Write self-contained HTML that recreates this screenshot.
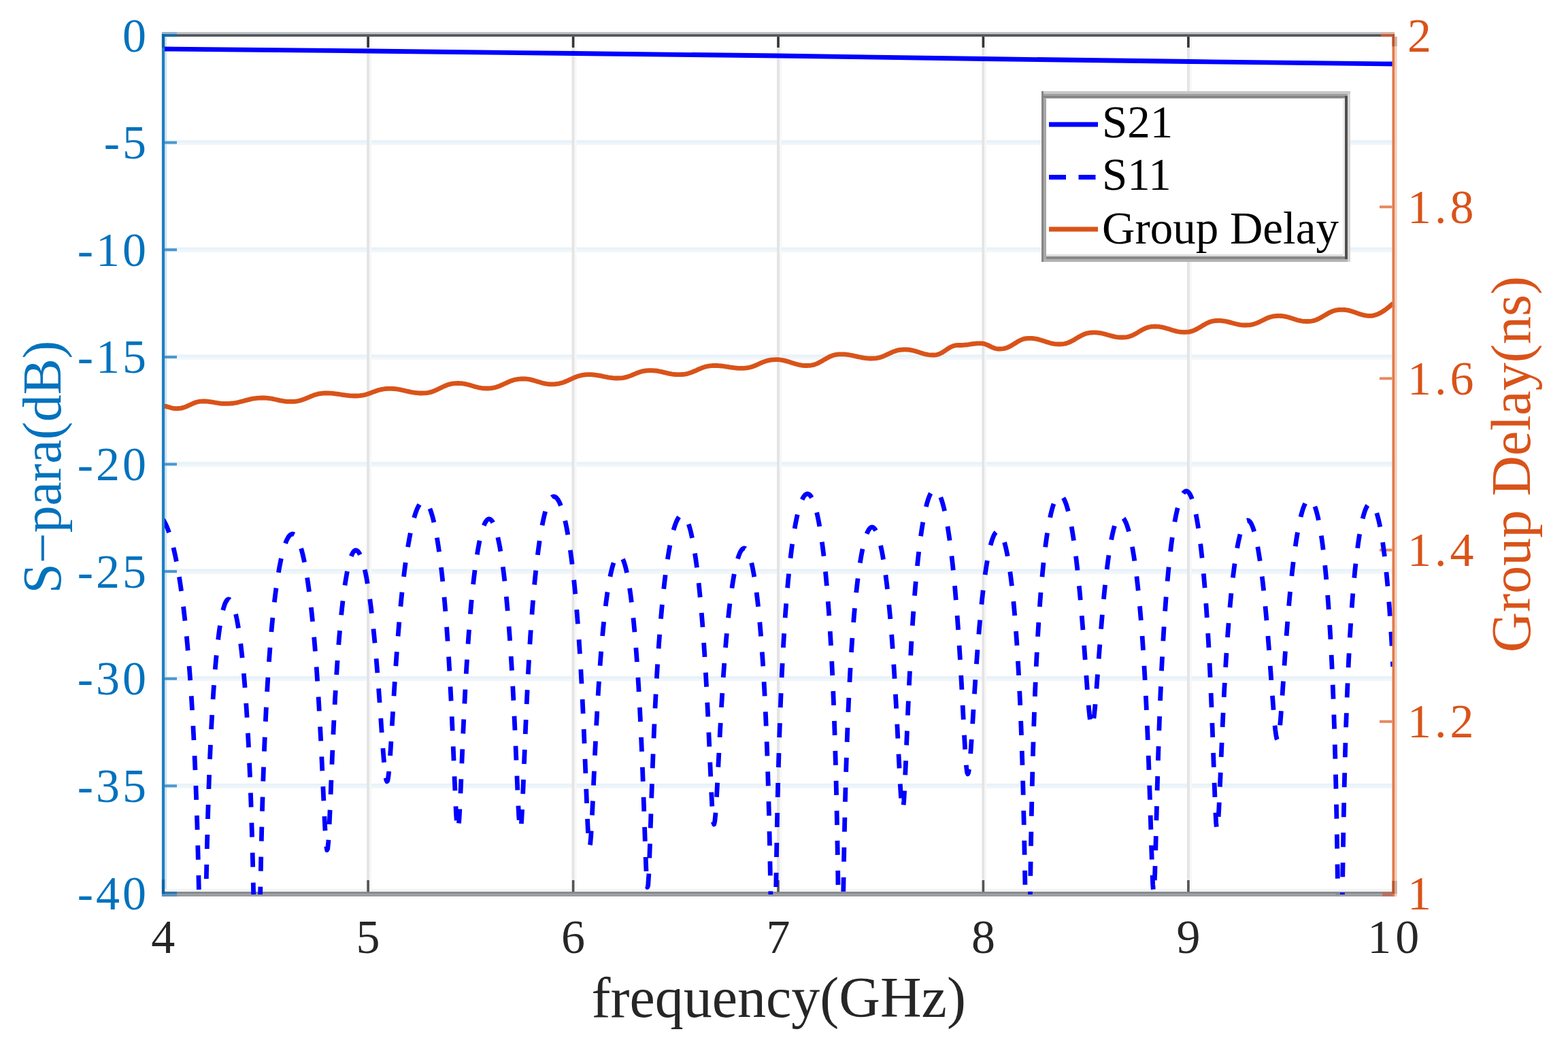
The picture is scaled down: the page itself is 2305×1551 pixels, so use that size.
<!DOCTYPE html>
<html><head><meta charset="utf-8"><title>S-parameters and Group Delay</title>
<style>html,body{margin:0;padding:0;background:#fff;width:2305px;height:1551px;overflow:hidden}svg{display:block}</style>
</head><body>
<svg width="2305" height="1551" viewBox="0 0 2305 1551">
<rect width="2305" height="1551" fill="#fff"/>
<defs><clipPath id="ax"><rect x="239.7" y="52.0" width="1808.6" height="1263.0"/></clipPath></defs>
<rect x="239.7" y="206.0" width="1808.6" height="4" fill="#e8f2f9"/>
<rect x="239.7" y="210.0" width="1808.6" height="3.2" fill="#f0f6fa"/>
<rect x="239.7" y="363.6" width="1808.6" height="4" fill="#e8f2f9"/>
<rect x="239.7" y="367.6" width="1808.6" height="3.2" fill="#f0f6fa"/>
<rect x="239.7" y="521.3" width="1808.6" height="4" fill="#e8f2f9"/>
<rect x="239.7" y="525.3" width="1808.6" height="3.2" fill="#f0f6fa"/>
<rect x="239.7" y="678.9" width="1808.6" height="4" fill="#e8f2f9"/>
<rect x="239.7" y="682.9" width="1808.6" height="3.2" fill="#f0f6fa"/>
<rect x="239.7" y="836.5" width="1808.6" height="4" fill="#e8f2f9"/>
<rect x="239.7" y="840.5" width="1808.6" height="3.2" fill="#f0f6fa"/>
<rect x="239.7" y="994.1" width="1808.6" height="4" fill="#e8f2f9"/>
<rect x="239.7" y="998.1" width="1808.6" height="3.2" fill="#f0f6fa"/>
<rect x="239.7" y="1151.8" width="1808.6" height="4" fill="#e8f2f9"/>
<rect x="239.7" y="1155.8" width="1808.6" height="3.2" fill="#f0f6fa"/>
<rect x="539.1" y="52.0" width="4" height="1261.0" fill="#e4e4e4"/>
<rect x="543.1" y="52.0" width="3" height="1261.0" fill="#f7f7f7"/>
<rect x="840.6" y="52.0" width="4" height="1261.0" fill="#e4e4e4"/>
<rect x="844.6" y="52.0" width="3" height="1261.0" fill="#f7f7f7"/>
<rect x="1142.0" y="52.0" width="4" height="1261.0" fill="#e4e4e4"/>
<rect x="1146.0" y="52.0" width="3" height="1261.0" fill="#f7f7f7"/>
<rect x="1443.4" y="52.0" width="4" height="1261.0" fill="#e4e4e4"/>
<rect x="1447.4" y="52.0" width="3" height="1261.0" fill="#f7f7f7"/>
<rect x="1744.9" y="52.0" width="4" height="1261.0" fill="#e4e4e4"/>
<rect x="1748.9" y="52.0" width="3" height="1261.0" fill="#f7f7f7"/>
<rect x="239.7" y="47" width="1808.6" height="3.2" fill="#c0c3c6"/>
<rect x="242.1" y="53.9" width="3" height="1253" fill="#cde3f2"/>
<rect x="2050.1" y="53.9" width="3.5" height="1264" fill="#f0cdbb"/>
<rect x="239.7" y="1306.8" width="1808.6" height="4.1" fill="#f2f4f4"/>
<rect x="239.7" y="1310.9" width="1808.6" height="3.5" fill="#868a8d"/>
<rect x="239.7" y="1314.4" width="1808.6" height="3.5" fill="#979a9e"/>
<rect x="539.3" y="53.9" width="3.6" height="16" fill="#353535"/>
<rect x="539.3" y="1294" width="3.6" height="17" fill="#555"/>
<rect x="840.8" y="53.9" width="3.6" height="16" fill="#353535"/>
<rect x="840.8" y="1294" width="3.6" height="17" fill="#555"/>
<rect x="1142.2" y="53.9" width="3.6" height="16" fill="#353535"/>
<rect x="1142.2" y="1294" width="3.6" height="17" fill="#555"/>
<rect x="1443.6" y="53.9" width="3.6" height="16" fill="#353535"/>
<rect x="1443.6" y="1294" width="3.6" height="17" fill="#555"/>
<rect x="1745.1" y="53.9" width="3.6" height="16" fill="#353535"/>
<rect x="1745.1" y="1294" width="3.6" height="17" fill="#555"/>
<rect x="242" y="207.6" width="18" height="4" fill="#4a97cc"/>
<rect x="242" y="365.2" width="18" height="4" fill="#4a97cc"/>
<rect x="242" y="522.9" width="18" height="4" fill="#4a97cc"/>
<rect x="242" y="680.5" width="18" height="4" fill="#4a97cc"/>
<rect x="242" y="838.1" width="18" height="4" fill="#4a97cc"/>
<rect x="242" y="995.8" width="18" height="4" fill="#4a97cc"/>
<rect x="242" y="1153.4" width="18" height="4" fill="#4a97cc"/>
<rect x="2028" y="1058.8" width="18.5" height="4" fill="#e58a60"/>
<rect x="2028" y="806.6" width="18.5" height="4" fill="#e58a60"/>
<rect x="2028" y="554.4" width="18.5" height="4" fill="#e58a60"/>
<rect x="2028" y="302.2" width="18.5" height="4" fill="#e58a60"/>
<rect x="2032" y="1311" width="18" height="6.5" fill="#b87060"/>
<g clip-path="url(#ax)" fill="none" stroke-linejoin="round">
<path d="M239.7,597.0 L241.7,597.1 L243.8,597.4 L245.8,597.9 L247.8,598.5 L249.9,599.1 L251.9,599.7 L253.9,600.2 L256.0,600.5 L258.0,600.6 L260.0,600.6 L262.0,600.5 L264.0,600.4 L266.0,600.1 L268.0,599.6 L270.0,599.1 L272.0,598.4 L274.0,597.6 L276.0,596.7 L278.0,595.8 L280.0,594.8 L282.0,593.9 L284.0,593.0 L286.0,592.2 L288.0,591.5 L290.0,591.0 L292.0,590.5 L294.0,590.2 L296.0,590.1 L298.0,590.0 L300.0,590.0 L302.0,590.0 L304.1,590.1 L306.1,590.3 L308.1,590.6 L310.1,590.9 L312.2,591.2 L314.2,591.5 L316.2,591.9 L318.2,592.2 L320.3,592.5 L322.3,592.8 L324.3,593.1 L326.3,593.3 L328.4,593.4 L330.4,593.4 L332.4,593.4 L334.5,593.4 L336.5,593.3 L338.6,593.2 L340.6,593.0 L342.7,592.8 L344.7,592.5 L346.8,592.2 L348.8,591.8 L350.9,591.3 L352.9,590.8 L355.0,590.3 L357.0,589.8 L359.0,589.2 L361.1,588.6 L363.1,588.1 L365.2,587.6 L367.2,587.1 L369.3,586.6 L371.3,586.2 L373.4,585.9 L375.4,585.6 L377.5,585.4 L379.5,585.2 L381.6,585.1 L383.6,585.0 L385.7,585.0 L387.7,585.0 L389.7,585.0 L391.7,585.1 L393.7,585.3 L395.8,585.6 L397.8,585.9 L399.8,586.2 L401.8,586.6 L403.8,587.0 L405.8,587.5 L407.9,587.9 L409.9,588.4 L411.9,588.8 L413.9,589.2 L415.9,589.5 L417.9,589.8 L420.0,590.1 L422.0,590.3 L424.0,590.4 L426.0,590.4 L428.0,590.4 L430.1,590.4 L432.1,590.3 L434.1,590.1 L436.2,589.8 L438.2,589.5 L440.3,589.0 L442.3,588.4 L444.3,587.8 L446.4,587.1 L448.4,586.3 L450.4,585.5 L452.5,584.6 L454.5,583.8 L456.6,582.9 L458.6,582.1 L460.6,581.3 L462.7,580.6 L464.7,580.0 L466.7,579.4 L468.8,578.9 L470.8,578.6 L472.9,578.3 L474.9,578.1 L476.9,578.0 L479.0,578.0 L481.0,578.0 L483.0,578.0 L485.0,578.1 L487.0,578.2 L489.0,578.4 L491.0,578.6 L493.0,578.8 L495.0,579.1 L497.0,579.4 L499.0,579.7 L501.0,580.0 L503.0,580.3 L505.0,580.6 L507.0,580.9 L509.0,581.2 L511.0,581.4 L513.0,581.6 L515.0,581.8 L517.0,581.9 L519.0,582.0 L521.0,582.0 L523.0,582.0 L525.1,582.0 L527.1,581.9 L529.2,581.7 L531.2,581.4 L533.2,581.1 L535.3,580.7 L537.3,580.2 L539.3,579.6 L541.4,578.9 L543.4,578.2 L545.5,577.5 L547.5,576.7 L549.5,575.9 L551.6,575.2 L553.6,574.5 L555.7,573.8 L557.7,573.2 L559.7,572.7 L561.8,572.3 L563.8,572.0 L565.8,571.7 L567.9,571.5 L569.9,571.4 L572.0,571.4 L574.0,571.4 L576.0,571.4 L578.1,571.5 L580.1,571.7 L582.2,571.9 L584.2,572.2 L586.3,572.5 L588.3,572.9 L590.4,573.3 L592.4,573.8 L594.5,574.2 L596.5,574.7 L598.5,575.2 L600.6,575.6 L602.6,576.1 L604.7,576.5 L606.7,576.9 L608.8,577.2 L610.8,577.5 L612.9,577.7 L614.9,577.9 L617.0,578.0 L619.0,578.0 L621.1,578.0 L623.1,577.9 L625.2,577.8 L627.2,577.6 L629.3,577.3 L631.4,576.9 L633.4,576.4 L635.5,575.7 L637.5,575.0 L639.6,574.1 L641.7,573.2 L643.7,572.2 L645.8,571.3 L647.8,570.2 L649.9,569.3 L651.9,568.3 L654.0,567.4 L656.1,566.5 L658.1,565.8 L660.2,565.1 L662.2,564.6 L664.3,564.2 L666.4,563.9 L668.4,563.7 L670.5,563.6 L672.5,563.5 L674.6,563.5 L676.7,563.6 L678.7,563.7 L680.8,564.0 L682.9,564.3 L685.0,564.7 L687.0,565.2 L689.1,565.7 L691.2,566.3 L693.3,566.9 L695.3,567.6 L697.4,568.2 L699.5,568.8 L701.6,569.3 L703.6,569.8 L705.7,570.2 L707.8,570.5 L709.9,570.8 L711.9,570.9 L714.0,571.0 L716.0,571.0 L718.0,571.0 L720.0,570.9 L722.0,570.7 L724.0,570.4 L726.0,570.0 L728.0,569.6 L730.0,569.0 L732.0,568.3 L734.0,567.6 L736.0,566.7 L738.0,565.8 L740.0,564.9 L742.0,564.0 L744.0,563.1 L746.0,562.2 L748.0,561.3 L750.0,560.4 L752.0,559.7 L754.0,559.0 L756.0,558.4 L758.0,558.0 L760.0,557.6 L762.0,557.3 L764.0,557.1 L766.0,557.0 L768.0,557.0 L770.0,557.0 L772.0,557.0 L774.0,557.2 L776.0,557.4 L778.0,557.7 L780.0,558.1 L782.0,558.6 L784.0,559.1 L786.0,559.7 L788.0,560.3 L790.0,560.9 L792.0,561.5 L794.0,562.1 L796.0,562.7 L798.0,563.2 L800.0,563.7 L802.0,564.1 L804.0,564.4 L806.0,564.6 L808.0,564.8 L810.0,564.8 L812.0,564.8 L814.1,564.8 L816.1,564.7 L818.1,564.5 L820.2,564.2 L822.2,563.8 L824.2,563.3 L826.3,562.8 L828.3,562.1 L830.4,561.3 L832.4,560.5 L834.4,559.6 L836.5,558.7 L838.5,557.8 L840.5,556.8 L842.6,555.9 L844.6,555.0 L846.6,554.2 L848.7,553.4 L850.7,552.7 L852.8,552.2 L854.8,551.7 L856.8,551.3 L858.9,551.0 L860.9,550.8 L862.9,550.7 L865.0,550.7 L867.0,550.7 L869.1,550.7 L871.2,550.8 L873.3,551.0 L875.4,551.3 L877.4,551.6 L879.5,551.9 L881.6,552.3 L883.7,552.7 L885.8,553.1 L887.9,553.6 L890.0,554.0 L892.1,554.4 L894.2,554.8 L896.3,555.1 L898.3,555.4 L900.4,555.7 L902.5,555.9 L904.6,556.0 L906.7,556.0 L908.7,556.0 L910.7,555.9 L912.7,555.8 L914.7,555.6 L916.8,555.3 L918.8,554.9 L920.8,554.4 L922.8,553.8 L924.8,553.1 L926.8,552.4 L928.8,551.6 L930.8,550.7 L932.9,549.9 L934.9,549.0 L936.9,548.2 L938.9,547.5 L940.9,546.8 L942.9,546.2 L944.9,545.7 L946.9,545.3 L949.0,545.0 L951.0,544.8 L953.0,544.7 L955.0,544.6 L957.0,544.6 L959.1,544.6 L961.2,544.8 L963.3,545.0 L965.4,545.2 L967.4,545.6 L969.5,546.0 L971.6,546.4 L973.7,546.9 L975.8,547.4 L977.9,547.9 L980.0,548.4 L982.1,548.9 L984.2,549.3 L986.3,549.7 L988.3,550.1 L990.4,550.3 L992.5,550.5 L994.6,550.7 L996.7,550.7 L998.7,550.7 L1000.8,550.7 L1002.8,550.5 L1004.9,550.4 L1006.9,550.1 L1009.0,549.7 L1011.0,549.2 L1013.1,548.6 L1015.1,547.9 L1017.2,547.2 L1019.2,546.3 L1021.3,545.5 L1023.3,544.6 L1025.4,543.6 L1027.4,542.7 L1029.5,541.9 L1031.5,541.0 L1033.6,540.3 L1035.6,539.6 L1037.7,539.0 L1039.7,538.5 L1041.8,538.1 L1043.8,537.8 L1045.9,537.7 L1047.9,537.5 L1050.0,537.5 L1052.0,537.5 L1054.1,537.5 L1056.1,537.6 L1058.2,537.8 L1060.2,538.0 L1062.3,538.2 L1064.3,538.5 L1066.4,538.8 L1068.4,539.1 L1070.5,539.4 L1072.6,539.8 L1074.6,540.1 L1076.7,540.4 L1078.7,540.7 L1080.8,540.9 L1082.8,541.1 L1084.9,541.3 L1086.9,541.4 L1089.0,541.4 L1091.0,541.4 L1093.1,541.3 L1095.1,541.2 L1097.2,541.0 L1099.2,540.7 L1101.2,540.3 L1103.3,539.8 L1105.3,539.2 L1107.3,538.5 L1109.4,537.7 L1111.4,536.9 L1113.5,536.0 L1115.5,535.0 L1117.5,534.1 L1119.6,533.2 L1121.6,532.4 L1123.7,531.6 L1125.7,530.9 L1127.7,530.3 L1129.8,529.8 L1131.8,529.4 L1133.8,529.1 L1135.9,528.9 L1137.9,528.8 L1140.0,528.7 L1142.0,528.7 L1144.0,528.7 L1146.1,528.9 L1148.1,529.1 L1150.1,529.5 L1152.1,529.9 L1154.2,530.4 L1156.2,530.9 L1158.2,531.5 L1160.3,532.1 L1162.3,532.8 L1164.3,533.4 L1166.3,534.1 L1168.4,534.7 L1170.4,535.3 L1172.4,535.8 L1174.5,536.3 L1176.5,536.7 L1178.5,537.1 L1180.5,537.3 L1182.6,537.5 L1184.6,537.5 L1186.6,537.5 L1188.7,537.4 L1190.7,537.3 L1192.7,537.0 L1194.8,536.6 L1196.8,536.1 L1198.8,535.4 L1200.9,534.6 L1202.9,533.7 L1204.9,532.6 L1207.0,531.5 L1209.0,530.3 L1211.0,529.1 L1213.1,528.0 L1215.1,526.8 L1217.2,525.7 L1219.2,524.6 L1221.2,523.7 L1223.3,522.9 L1225.3,522.2 L1227.3,521.7 L1229.4,521.3 L1231.4,521.0 L1233.4,520.9 L1235.5,520.8 L1237.5,520.8 L1239.5,520.8 L1241.5,520.9 L1243.6,521.1 L1245.6,521.3 L1247.6,521.6 L1249.6,522.0 L1251.7,522.3 L1253.7,522.8 L1255.7,523.2 L1257.7,523.7 L1259.8,524.1 L1261.8,524.6 L1263.8,525.0 L1265.8,525.4 L1267.9,525.8 L1269.9,526.2 L1271.9,526.5 L1273.9,526.7 L1276.0,526.9 L1278.0,527.0 L1280.0,527.0 L1282.1,527.0 L1284.1,526.9 L1286.2,526.8 L1288.2,526.6 L1290.3,526.2 L1292.4,525.8 L1294.4,525.2 L1296.5,524.5 L1298.5,523.7 L1300.6,522.8 L1302.7,521.9 L1304.7,520.9 L1306.8,520.0 L1308.8,519.0 L1310.9,518.1 L1313.0,517.2 L1315.0,516.4 L1317.1,515.7 L1319.1,515.1 L1321.2,514.7 L1323.3,514.3 L1325.3,514.1 L1327.4,514.0 L1329.4,513.9 L1331.5,513.9 L1333.6,514.0 L1335.6,514.1 L1337.7,514.4 L1339.8,514.8 L1341.8,515.2 L1343.9,515.7 L1345.9,516.3 L1348.0,517.0 L1350.1,517.6 L1352.1,518.3 L1354.2,518.9 L1356.3,519.6 L1358.3,520.2 L1360.4,520.7 L1362.4,521.1 L1364.5,521.5 L1366.6,521.8 L1368.6,521.9 L1370.7,522.0 L1372.8,522.0 L1374.8,521.9 L1376.9,521.6 L1379.0,521.0 L1381.0,520.3 L1383.1,519.3 L1385.2,518.2 L1387.2,516.9 L1389.3,515.5 L1391.4,514.0 L1393.5,512.6 L1395.5,511.3 L1397.6,510.2 L1399.7,509.2 L1401.7,508.5 L1403.8,507.9 L1405.9,507.6 L1407.9,507.5 L1410.0,507.5 L1412.0,507.5 L1414.0,507.5 L1416.0,507.4 L1418.0,507.2 L1420.0,507.0 L1422.0,506.8 L1424.0,506.5 L1426.0,506.1 L1428.0,505.8 L1430.0,505.5 L1432.0,505.3 L1434.0,505.1 L1436.0,504.9 L1438.0,504.8 L1440.0,504.8 L1442.0,504.8 L1444.0,504.9 L1446.0,505.3 L1448.0,505.8 L1450.0,506.6 L1452.0,507.4 L1454.0,508.4 L1456.0,509.4 L1458.0,510.4 L1460.0,511.2 L1462.0,512.0 L1464.0,512.5 L1466.0,512.9 L1468.0,513.0 L1470.0,513.0 L1472.1,512.9 L1474.1,512.7 L1476.1,512.4 L1478.2,511.9 L1480.2,511.2 L1482.2,510.3 L1484.2,509.4 L1486.3,508.3 L1488.3,507.0 L1490.3,505.8 L1492.4,504.5 L1494.4,503.3 L1496.4,502.0 L1498.5,500.9 L1500.5,500.0 L1502.5,499.1 L1504.5,498.4 L1506.6,497.9 L1508.6,497.6 L1510.6,497.4 L1512.7,497.3 L1514.7,497.3 L1516.8,497.4 L1518.8,497.5 L1520.9,497.8 L1522.9,498.1 L1525.0,498.6 L1527.0,499.1 L1529.0,499.7 L1531.1,500.3 L1533.2,501.0 L1535.2,501.6 L1537.2,502.3 L1539.3,503.0 L1541.4,503.6 L1543.4,504.2 L1545.5,504.7 L1547.5,505.2 L1549.5,505.5 L1551.6,505.8 L1553.7,505.9 L1555.7,506.0 L1557.8,506.0 L1559.8,505.9 L1561.9,505.8 L1563.9,505.5 L1566.0,505.1 L1568.0,504.6 L1570.0,503.9 L1572.1,503.0 L1574.2,502.1 L1576.2,501.0 L1578.2,499.9 L1580.3,498.7 L1582.3,497.4 L1584.4,496.2 L1586.5,495.0 L1588.5,493.9 L1590.5,492.8 L1592.6,491.9 L1594.7,491.0 L1596.7,490.3 L1598.8,489.8 L1600.8,489.4 L1602.8,489.1 L1604.9,489.0 L1607.0,488.9 L1609.0,488.9 L1611.1,488.9 L1613.2,489.1 L1615.3,489.3 L1617.3,489.6 L1619.4,490.0 L1621.5,490.5 L1623.6,491.0 L1625.7,491.6 L1627.8,492.2 L1629.8,492.7 L1631.9,493.3 L1634.0,493.9 L1636.1,494.4 L1638.2,494.9 L1640.3,495.3 L1642.3,495.6 L1644.4,495.8 L1646.5,496.0 L1648.6,496.0 L1650.6,496.0 L1652.6,495.9 L1654.6,495.8 L1656.7,495.5 L1658.7,495.1 L1660.7,494.5 L1662.7,493.8 L1664.7,493.0 L1666.7,492.0 L1668.8,490.9 L1670.8,489.8 L1672.8,488.6 L1674.8,487.4 L1676.8,486.2 L1678.8,485.1 L1680.9,484.0 L1682.9,483.0 L1684.9,482.2 L1686.9,481.5 L1688.9,480.9 L1690.9,480.5 L1693.0,480.2 L1695.0,480.1 L1697.0,480.0 L1699.0,480.0 L1701.0,480.1 L1703.1,480.2 L1705.2,480.5 L1707.2,480.8 L1709.2,481.2 L1711.3,481.7 L1713.3,482.3 L1715.4,482.9 L1717.5,483.5 L1719.5,484.1 L1721.5,484.8 L1723.6,485.4 L1725.7,486.0 L1727.7,486.6 L1729.8,487.1 L1731.8,487.5 L1733.8,487.8 L1735.9,488.1 L1738.0,488.2 L1740.0,488.3 L1742.0,488.3 L1744.0,488.2 L1746.0,488.1 L1748.0,487.8 L1750.0,487.4 L1752.0,486.9 L1754.0,486.2 L1756.0,485.4 L1758.0,484.4 L1760.0,483.4 L1762.0,482.2 L1764.0,481.1 L1766.0,479.9 L1768.0,478.6 L1770.0,477.5 L1772.0,476.3 L1774.0,475.3 L1776.0,474.3 L1778.0,473.5 L1780.0,472.8 L1782.0,472.3 L1784.0,471.9 L1786.0,471.6 L1788.0,471.5 L1790.0,471.4 L1792.0,471.4 L1794.0,471.4 L1796.0,471.6 L1798.0,471.8 L1800.0,472.1 L1802.0,472.5 L1804.0,472.9 L1806.0,473.4 L1808.0,473.9 L1810.0,474.4 L1812.0,475.0 L1814.0,475.5 L1816.0,476.0 L1818.0,476.5 L1820.0,476.9 L1822.0,477.3 L1824.0,477.6 L1826.0,477.8 L1828.0,478.0 L1830.0,478.0 L1832.0,478.0 L1834.1,477.9 L1836.1,477.8 L1838.2,477.6 L1840.2,477.2 L1842.2,476.7 L1844.3,476.1 L1846.3,475.4 L1848.4,474.6 L1850.4,473.7 L1852.4,472.7 L1854.5,471.7 L1856.5,470.7 L1858.6,469.7 L1860.6,468.7 L1862.6,467.8 L1864.7,467.0 L1866.7,466.3 L1868.8,465.7 L1870.8,465.2 L1872.8,464.8 L1874.9,464.6 L1876.9,464.5 L1879.0,464.4 L1881.0,464.4 L1883.1,464.5 L1885.1,464.6 L1887.2,464.9 L1889.2,465.3 L1891.3,465.7 L1893.3,466.2 L1895.4,466.8 L1897.4,467.5 L1899.5,468.1 L1901.5,468.8 L1903.6,469.4 L1905.6,470.1 L1907.7,470.7 L1909.7,471.2 L1911.8,471.6 L1913.8,472.0 L1915.9,472.3 L1917.9,472.4 L1920.0,472.5 L1922.1,472.5 L1924.1,472.4 L1926.2,472.3 L1928.2,472.0 L1930.3,471.6 L1932.4,471.1 L1934.4,470.4 L1936.5,469.5 L1938.6,468.6 L1940.6,467.5 L1942.7,466.3 L1944.7,465.1 L1946.8,463.9 L1948.9,462.7 L1950.9,461.5 L1953.0,460.3 L1955.0,459.2 L1957.1,458.3 L1959.2,457.4 L1961.2,456.7 L1963.3,456.2 L1965.4,455.8 L1967.4,455.5 L1969.5,455.4 L1971.5,455.3 L1973.6,455.3 L1975.6,455.4 L1977.6,455.5 L1979.6,455.8 L1981.6,456.2 L1983.6,456.6 L1985.6,457.2 L1987.6,457.8 L1989.6,458.4 L1991.6,459.1 L1993.7,459.8 L1995.7,460.6 L1997.7,461.3 L1999.7,461.9 L2001.7,462.5 L2003.7,463.1 L2005.7,463.5 L2007.7,463.9 L2009.7,464.2 L2011.7,464.3 L2013.7,464.4 L2015.7,464.3 L2017.8,464.1 L2019.8,463.7 L2021.8,463.1 L2023.9,462.5 L2025.9,461.6 L2027.9,460.6 L2030.0,459.5 L2032.0,458.3 L2034.1,457.0 L2036.1,455.6 L2038.1,454.1 L2040.2,452.5 L2042.2,450.9 L2044.2,449.2 L2046.3,447.5 L2048.3,445.8" stroke="#d95319" stroke-width="6.8"/>
<path d="M239.7,72.0 L541.0,75.0 L843.0,78.5 L1144.0,82.0 L1447.0,86.5 L1750.0,90.5 L2048.3,94.0" stroke="#0000ff" stroke-width="6.8"/>
<path d="M239.7,763.9 L240.7,765.5 L241.7,767.1 L242.7,769.0 L243.7,770.9 L244.7,773.1 L245.7,775.4 L246.7,777.9 L247.7,780.6 L248.7,783.4 L249.7,786.4 L250.7,789.6 L251.7,792.9 L252.7,796.5 L253.7,800.3 L254.7,804.2 L255.7,808.4 L256.7,812.7 L257.7,817.3 L258.7,822.1 L259.7,827.2 L260.7,832.5 L261.7,838.0 L262.7,843.9 L263.7,849.9 L264.7,856.3 L265.7,863.0 L266.7,870.0 L267.7,877.3 L268.7,885.0 L269.7,893.0 L270.7,901.5 L271.7,910.3 L272.7,919.6 L273.7,929.4 L274.7,939.7 L275.7,950.5 L276.7,961.9 L277.7,974.0 L278.7,986.8 L279.7,1000.4 L280.7,1014.8 L281.7,1030.1 L282.7,1046.6 L283.7,1064.2 L284.7,1083.1 L285.7,1103.7 L286.7,1126.0 L287.7,1150.4 L288.7,1177.3 L289.7,1207.2 L290.7,1240.8 L291.7,1279.1 L292.7,1323.4 L293.7,1375.7 L294.7,1438.8 L295.7,1516.4 L296.7,1608.8 L297.7,1685.4 L298.7,1654.4 L299.7,1549.2 L300.7,1455.7 L301.7,1381.9 L302.7,1322.5 L303.7,1273.4 L304.7,1231.9 L305.7,1196.1 L306.7,1164.7 L307.7,1136.9 L308.7,1112.0 L309.7,1089.6 L310.7,1069.3 L311.7,1050.8 L312.7,1034.0 L313.7,1018.5 L314.7,1004.3 L315.7,991.2 L316.7,979.1 L317.7,968.0 L318.7,957.8 L319.7,948.4 L320.7,939.8 L321.7,931.9 L322.7,924.6 L323.7,918.0 L324.7,912.0 L325.7,906.6 L326.7,901.7 L327.7,897.4 L328.7,893.7 L329.7,890.4 L330.7,887.6 L331.7,885.3 L332.7,883.6 L333.7,882.2 L334.7,881.4 L335.7,881.0 L336.7,881.1 L337.7,881.6 L338.7,882.4 L339.7,883.6 L340.7,885.3 L341.7,887.3 L342.7,889.7 L343.7,892.5 L344.7,895.8 L345.7,899.4 L346.7,903.5 L347.7,908.1 L348.7,913.1 L349.7,918.6 L350.7,924.6 L351.7,931.1 L352.7,938.2 L353.7,945.9 L354.7,954.2 L355.7,963.1 L356.7,972.7 L357.7,983.0 L358.7,994.2 L359.7,1006.2 L360.7,1019.2 L361.7,1033.2 L362.7,1048.3 L363.7,1064.8 L364.7,1082.6 L365.7,1102.1 L366.7,1123.5 L367.7,1147.1 L368.7,1173.3 L369.7,1202.5 L370.7,1235.6 L371.7,1273.4 L372.7,1317.4 L373.7,1369.6 L374.7,1432.8 L375.7,1511.1 L376.7,1605.3 L377.7,1685.1 L378.7,1651.8 L379.7,1542.3 L380.7,1446.8 L381.7,1372.0 L382.7,1312.0 L383.7,1262.3 L384.7,1220.2 L385.7,1183.8 L386.7,1151.7 L387.7,1123.2 L388.7,1097.6 L389.7,1074.3 L390.7,1053.1 L391.7,1033.7 L392.7,1015.7 L393.7,999.1 L394.7,983.6 L395.7,969.2 L396.7,955.8 L397.7,943.2 L398.7,931.4 L399.7,920.4 L400.7,910.0 L401.7,900.2 L402.7,891.0 L403.7,882.3 L404.7,874.2 L405.7,866.5 L406.7,859.2 L407.7,852.4 L408.7,846.0 L409.7,840.0 L410.7,834.4 L411.7,829.1 L412.7,824.2 L413.7,819.6 L414.7,815.3 L415.7,811.4 L416.7,807.7 L417.7,804.3 L418.7,801.3 L419.7,798.5 L420.7,795.9 L421.7,793.7 L422.7,791.7 L423.7,790.0 L424.7,788.5 L425.7,787.3 L426.7,786.4 L427.7,785.7 L428.7,785.2 L429.7,785.0 L430.7,785.1 L431.7,785.4 L432.7,785.9 L433.7,786.8 L434.7,787.9 L435.7,789.2 L436.7,790.9 L437.7,792.8 L438.7,794.9 L439.7,797.4 L440.7,800.1 L441.7,803.1 L442.7,806.4 L443.7,810.0 L444.7,813.9 L445.7,818.1 L446.7,822.6 L447.7,827.4 L448.7,832.6 L449.7,838.1 L450.7,844.0 L451.7,850.2 L452.7,856.9 L453.7,863.9 L454.7,871.4 L455.7,879.2 L456.7,887.6 L457.7,896.4 L458.7,905.7 L459.7,915.6 L460.7,926.0 L461.7,937.0 L462.7,948.7 L463.7,961.0 L464.7,974.1 L465.7,987.9 L466.7,1002.5 L467.7,1018.0 L468.7,1034.4 L469.7,1051.8 L470.7,1070.1 L471.7,1089.5 L472.7,1109.8 L473.7,1130.9 L474.7,1152.6 L475.7,1174.5 L476.7,1195.8 L477.7,1215.5 L478.7,1232.1 L479.7,1244.0 L480.7,1249.7 L481.7,1247.9 L482.7,1237.8 L483.7,1221.2 L484.7,1200.2 L485.7,1176.9 L486.7,1152.8 L487.7,1128.9 L488.7,1105.8 L489.7,1083.8 L490.7,1063.0 L491.7,1043.4 L492.7,1025.0 L493.7,1007.8 L494.7,991.7 L495.7,976.6 L496.7,962.4 L497.7,949.2 L498.7,936.8 L499.7,925.2 L500.7,914.3 L501.7,904.1 L502.7,894.6 L503.7,885.7 L504.7,877.4 L505.7,869.7 L506.7,862.5 L507.7,855.9 L508.7,849.7 L509.7,844.0 L510.7,838.8 L511.7,834.0 L512.7,829.7 L513.7,825.8 L514.7,822.4 L515.7,819.3 L516.7,816.7 L517.7,814.4 L518.7,812.6 L519.7,811.1 L520.7,810.0 L521.7,809.3 L522.7,809.0 L523.7,809.1 L524.7,809.5 L525.7,810.2 L526.7,811.2 L527.7,812.5 L528.7,814.2 L529.7,816.2 L530.7,818.5 L531.7,821.2 L532.7,824.2 L533.7,827.5 L534.7,831.2 L535.7,835.2 L536.7,839.5 L537.7,844.3 L538.7,849.3 L539.7,854.8 L540.7,860.6 L541.7,866.9 L542.7,873.5 L543.7,880.5 L544.7,888.0 L545.7,895.9 L546.7,904.2 L547.7,912.9 L548.7,922.2 L549.7,931.9 L550.7,942.1 L551.7,952.8 L552.7,963.9 L553.7,975.6 L554.7,987.8 L555.7,1000.5 L556.7,1013.7 L557.7,1027.2 L558.7,1041.1 L559.7,1055.3 L560.7,1069.5 L561.7,1083.7 L562.7,1097.5 L563.7,1110.5 L564.7,1122.4 L565.7,1132.7 L566.7,1140.8 L567.7,1146.3 L568.7,1148.9 L569.7,1148.0 L570.7,1143.0 L571.7,1134.4 L572.7,1122.8 L573.7,1109.0 L574.7,1093.6 L575.7,1077.4 L576.7,1060.8 L577.7,1044.2 L578.7,1027.9 L579.7,1011.9 L580.7,996.4 L581.7,981.5 L582.7,967.2 L583.7,953.4 L584.7,940.3 L585.7,927.8 L586.7,915.9 L587.7,904.5 L588.7,893.6 L589.7,883.3 L590.7,873.4 L591.7,864.0 L592.7,855.1 L593.7,846.6 L594.7,838.5 L595.7,830.8 L596.7,823.5 L597.7,816.5 L598.7,809.9 L599.7,803.7 L600.7,797.8 L601.7,792.2 L602.7,786.9 L603.7,781.9 L604.7,777.2 L605.7,772.8 L606.7,768.6 L607.7,764.8 L608.7,761.2 L609.7,757.9 L610.7,754.8 L611.7,752.0 L612.7,749.4 L613.7,747.1 L614.7,745.0 L615.7,743.2 L616.7,741.6 L617.7,740.3 L618.7,739.1 L619.7,738.3 L620.7,737.6 L621.7,737.2 L622.7,737.0 L623.7,737.1 L624.7,737.4 L625.7,738.0 L626.7,738.9 L627.7,740.0 L628.7,741.4 L629.7,743.1 L630.7,745.1 L631.7,747.3 L632.7,749.9 L633.7,752.7 L634.7,755.9 L635.7,759.3 L636.7,763.0 L637.7,767.1 L638.7,771.5 L639.7,776.2 L640.7,781.3 L641.7,786.7 L642.7,792.5 L643.7,798.7 L644.7,805.2 L645.7,812.2 L646.7,819.6 L647.7,827.5 L648.7,835.8 L649.7,844.6 L650.7,854.0 L651.7,863.9 L652.7,874.3 L653.7,885.5 L654.7,897.2 L655.7,909.7 L656.7,923.0 L657.7,937.1 L658.7,952.0 L659.7,967.9 L660.7,984.8 L661.7,1002.8 L662.7,1021.9 L663.7,1042.1 L664.7,1063.6 L665.7,1086.1 L666.7,1109.5 L667.7,1133.5 L668.7,1157.2 L669.7,1179.6 L670.7,1198.8 L671.7,1212.9 L672.7,1219.6 L673.7,1218.0 L674.7,1208.4 L675.7,1192.6 L676.7,1172.4 L677.7,1149.9 L678.7,1126.5 L679.7,1103.1 L680.7,1080.4 L681.7,1058.7 L682.7,1038.0 L683.7,1018.5 L684.7,1000.2 L685.7,982.9 L686.7,966.7 L687.7,951.4 L688.7,937.1 L689.7,923.7 L690.7,911.0 L691.7,899.1 L692.7,887.9 L693.7,877.4 L694.7,867.5 L695.7,858.2 L696.7,849.4 L697.7,841.2 L698.7,833.5 L699.7,826.3 L700.7,819.5 L701.7,813.2 L702.7,807.3 L703.7,801.8 L704.7,796.7 L705.7,792.0 L706.7,787.7 L707.7,783.8 L708.7,780.2 L709.7,777.0 L710.7,774.1 L711.7,771.6 L712.7,769.4 L713.7,767.5 L714.7,766.0 L715.7,764.7 L716.7,763.8 L717.7,763.3 L718.7,763.0 L719.7,763.1 L720.7,763.5 L721.7,764.2 L722.7,765.2 L723.7,766.5 L724.7,768.2 L725.7,770.2 L726.7,772.6 L727.7,775.2 L728.7,778.2 L729.7,781.6 L730.7,785.3 L731.7,789.4 L732.7,793.9 L733.7,798.7 L734.7,803.9 L735.7,809.6 L736.7,815.6 L737.7,822.1 L738.7,829.1 L739.7,836.5 L740.7,844.4 L741.7,852.9 L742.7,861.8 L743.7,871.4 L744.7,881.5 L745.7,892.3 L746.7,903.8 L747.7,916.0 L748.7,929.0 L749.7,942.7 L750.7,957.4 L751.7,973.1 L752.7,989.7 L753.7,1007.4 L754.7,1026.2 L755.7,1046.1 L756.7,1067.2 L757.7,1089.4 L758.7,1112.4 L759.7,1135.9 L760.7,1159.1 L761.7,1180.9 L762.7,1199.6 L763.7,1213.1 L764.7,1219.6 L765.7,1217.7 L766.7,1206.9 L767.7,1189.1 L768.7,1166.9 L769.7,1142.4 L770.7,1117.2 L771.7,1092.4 L772.7,1068.5 L773.7,1045.8 L774.7,1024.3 L775.7,1004.1 L776.7,985.1 L777.7,967.4 L778.7,950.7 L779.7,935.0 L780.7,920.3 L781.7,906.5 L782.7,893.5 L783.7,881.3 L784.7,869.7 L785.7,858.9 L786.7,848.6 L787.7,839.0 L788.7,829.9 L789.7,821.3 L790.7,813.3 L791.7,805.7 L792.7,798.5 L793.7,791.8 L794.7,785.5 L795.7,779.6 L796.7,774.1 L797.7,768.9 L798.7,764.1 L799.7,759.7 L800.7,755.5 L801.7,751.8 L802.7,748.3 L803.7,745.2 L804.7,742.3 L805.7,739.8 L806.7,737.6 L807.7,735.6 L808.7,734.0 L809.7,732.6 L810.7,731.5 L811.7,730.7 L812.7,730.2 L813.7,730.0 L814.7,730.1 L815.7,730.4 L816.7,730.9 L817.7,731.7 L818.7,732.7 L819.7,734.0 L820.7,735.5 L821.7,737.3 L822.7,739.3 L823.7,741.6 L824.7,744.2 L825.7,747.0 L826.7,750.1 L827.7,753.5 L828.7,757.2 L829.7,761.1 L830.7,765.3 L831.7,769.9 L832.7,774.8 L833.7,780.0 L834.7,785.5 L835.7,791.4 L836.7,797.6 L837.7,804.2 L838.7,811.2 L839.7,818.7 L840.7,826.5 L841.7,834.8 L842.7,843.6 L843.7,852.9 L844.7,862.7 L845.7,873.1 L846.7,884.1 L847.7,895.8 L848.7,908.1 L849.7,921.2 L850.7,935.1 L851.7,949.9 L852.7,965.6 L853.7,982.3 L854.7,1000.1 L855.7,1019.2 L856.7,1039.4 L857.7,1061.0 L858.7,1083.9 L859.7,1108.1 L860.7,1133.3 L861.7,1159.1 L862.7,1184.6 L863.7,1208.4 L864.7,1228.0 L865.7,1241.0 L866.7,1245.0 L867.7,1240.5 L868.7,1229.4 L869.7,1213.1 L870.7,1193.3 L871.7,1171.8 L872.7,1149.6 L873.7,1127.6 L874.7,1106.2 L875.7,1085.6 L876.7,1066.1 L877.7,1047.6 L878.7,1030.2 L879.7,1013.8 L880.7,998.4 L881.7,983.9 L882.7,970.3 L883.7,957.5 L884.7,945.5 L885.7,934.2 L886.7,923.6 L887.7,913.6 L888.7,904.3 L889.7,895.5 L890.7,887.3 L891.7,879.7 L892.7,872.5 L893.7,865.9 L894.7,859.7 L895.7,854.0 L896.7,848.7 L897.7,843.8 L898.7,839.4 L899.7,835.4 L900.7,831.7 L901.7,828.5 L902.7,825.6 L903.7,823.2 L904.7,821.1 L905.7,819.3 L906.7,818.0 L907.7,816.9 L908.7,816.3 L909.7,816.0 L910.7,816.1 L911.7,816.6 L912.7,817.4 L913.7,818.6 L914.7,820.2 L915.7,822.3 L916.7,824.7 L917.7,827.5 L918.7,830.7 L919.7,834.4 L920.7,838.4 L921.7,842.9 L922.7,847.9 L923.7,853.3 L924.7,859.3 L925.7,865.7 L926.7,872.6 L927.7,880.1 L928.7,888.1 L929.7,896.8 L930.7,906.1 L931.7,916.0 L932.7,926.7 L933.7,938.1 L934.7,950.4 L935.7,963.5 L936.7,977.6 L937.7,992.7 L938.7,1008.9 L939.7,1026.3 L940.7,1045.1 L941.7,1065.3 L942.7,1087.0 L943.7,1110.4 L944.7,1135.6 L945.7,1162.4 L946.7,1190.8 L947.7,1219.9 L948.7,1248.7 L949.7,1274.7 L950.7,1294.6 L951.7,1304.4 L952.7,1301.7 L953.7,1286.5 L954.7,1262.5 L955.7,1233.8 L956.7,1203.6 L957.7,1173.7 L958.7,1145.1 L959.7,1118.2 L960.7,1093.1 L961.7,1069.7 L962.7,1048.0 L963.7,1027.8 L964.7,1009.0 L965.7,991.5 L966.7,975.1 L967.7,959.8 L968.7,945.4 L969.7,931.9 L970.7,919.3 L971.7,907.4 L972.7,896.1 L973.7,885.6 L974.7,875.6 L975.7,866.2 L976.7,857.4 L977.7,849.0 L978.7,841.1 L979.7,833.7 L980.7,826.7 L981.7,820.2 L982.7,814.0 L983.7,808.2 L984.7,802.7 L985.7,797.6 L986.7,792.9 L987.7,788.5 L988.7,784.4 L989.7,780.6 L990.7,777.1 L991.7,773.9 L992.7,771.0 L993.7,768.4 L994.7,766.0 L995.7,764.0 L996.7,762.2 L997.7,760.7 L998.7,759.4 L999.7,758.4 L1000.7,757.7 L1001.7,757.2 L1002.7,757.0 L1003.7,757.1 L1004.7,757.5 L1005.7,758.1 L1006.7,759.1 L1007.7,760.5 L1008.7,762.1 L1009.7,764.1 L1010.7,766.3 L1011.7,769.0 L1012.7,771.9 L1013.7,775.2 L1014.7,778.8 L1015.7,782.8 L1016.7,787.2 L1017.7,791.9 L1018.7,797.0 L1019.7,802.5 L1020.7,808.5 L1021.7,814.8 L1022.7,821.6 L1023.7,828.8 L1024.7,836.5 L1025.7,844.7 L1026.7,853.5 L1027.7,862.7 L1028.7,872.6 L1029.7,883.1 L1030.7,894.2 L1031.7,906.0 L1032.7,918.6 L1033.7,932.0 L1034.7,946.2 L1035.7,961.2 L1036.7,977.3 L1037.7,994.4 L1038.7,1012.5 L1039.7,1031.7 L1040.7,1052.0 L1041.7,1073.4 L1042.7,1095.7 L1043.7,1118.7 L1044.7,1141.6 L1045.7,1163.8 L1046.7,1183.7 L1047.7,1199.6 L1048.7,1209.4 L1049.7,1211.9 L1050.7,1207.8 L1051.7,1198.4 L1052.7,1184.6 L1053.7,1167.9 L1054.7,1149.3 L1055.7,1129.8 L1056.7,1110.2 L1057.7,1090.8 L1058.7,1071.9 L1059.7,1053.8 L1060.7,1036.5 L1061.7,1020.1 L1062.7,1004.5 L1063.7,989.7 L1064.7,975.8 L1065.7,962.6 L1066.7,950.1 L1067.7,938.4 L1068.7,927.4 L1069.7,916.9 L1070.7,907.1 L1071.7,897.9 L1072.7,889.2 L1073.7,881.0 L1074.7,873.3 L1075.7,866.2 L1076.7,859.5 L1077.7,853.2 L1078.7,847.4 L1079.7,842.0 L1080.7,837.0 L1081.7,832.4 L1082.7,828.2 L1083.7,824.4 L1084.7,820.9 L1085.7,817.9 L1086.7,815.2 L1087.7,812.8 L1088.7,810.8 L1089.7,809.2 L1090.7,807.9 L1091.7,806.9 L1092.7,806.3 L1093.7,806.0 L1094.7,806.1 L1095.7,806.5 L1096.7,807.3 L1097.7,808.5 L1098.7,810.1 L1099.7,812.0 L1100.7,814.3 L1101.7,817.0 L1102.7,820.1 L1103.7,823.6 L1104.7,827.5 L1105.7,831.8 L1106.7,836.6 L1107.7,841.8 L1108.7,847.5 L1109.7,853.7 L1110.7,860.4 L1111.7,867.7 L1112.7,875.5 L1113.7,884.0 L1114.7,893.0 L1115.7,902.8 L1116.7,913.3 L1117.7,924.6 L1118.7,936.8 L1119.7,949.9 L1120.7,964.0 L1121.7,979.3 L1122.7,995.9 L1123.7,1013.9 L1124.7,1033.6 L1125.7,1055.2 L1126.7,1079.0 L1127.7,1105.4 L1128.7,1135.0 L1129.7,1168.5 L1130.7,1207.1 L1131.7,1252.1 L1132.7,1305.9 L1133.7,1372.4 L1134.7,1457.5 L1135.7,1568.9 L1136.7,1681.1 L1137.7,1630.7 L1138.7,1492.2 L1139.7,1386.5 L1140.7,1307.6 L1141.7,1245.6 L1142.7,1195.0 L1143.7,1152.3 L1144.7,1115.5 L1145.7,1083.2 L1146.7,1054.6 L1147.7,1028.8 L1148.7,1005.6 L1149.7,984.3 L1150.7,964.9 L1151.7,947.0 L1152.7,930.4 L1153.7,915.0 L1154.7,900.7 L1155.7,887.4 L1156.7,874.9 L1157.7,863.3 L1158.7,852.3 L1159.7,842.1 L1160.7,832.5 L1161.7,823.4 L1162.7,815.0 L1163.7,807.0 L1164.7,799.5 L1165.7,792.5 L1166.7,785.9 L1167.7,779.7 L1168.7,774.0 L1169.7,768.6 L1170.7,763.6 L1171.7,758.9 L1172.7,754.6 L1173.7,750.6 L1174.7,747.0 L1175.7,743.6 L1176.7,740.6 L1177.7,737.9 L1178.7,735.4 L1179.7,733.3 L1180.7,731.4 L1181.7,729.8 L1182.7,728.5 L1183.7,727.5 L1184.7,726.7 L1185.7,726.2 L1186.7,726.0 L1187.7,726.1 L1188.7,726.4 L1189.7,727.0 L1190.7,728.0 L1191.7,729.2 L1192.7,730.7 L1193.7,732.4 L1194.7,734.5 L1195.7,736.9 L1196.7,739.6 L1197.7,742.6 L1198.7,746.0 L1199.7,749.6 L1200.7,753.6 L1201.7,758.0 L1202.7,762.7 L1203.7,767.8 L1204.7,773.3 L1205.7,779.1 L1206.7,785.4 L1207.7,792.2 L1208.7,799.4 L1209.7,807.0 L1210.7,815.2 L1211.7,824.0 L1212.7,833.3 L1213.7,843.2 L1214.7,853.8 L1215.7,865.2 L1216.7,877.3 L1217.7,890.3 L1218.7,904.2 L1219.7,919.1 L1220.7,935.2 L1221.7,952.7 L1222.7,971.6 L1223.7,992.2 L1224.7,1014.7 L1225.7,1039.6 L1226.7,1067.3 L1227.7,1098.4 L1228.7,1133.7 L1229.7,1174.5 L1230.7,1222.5 L1231.7,1280.7 L1232.7,1354.0 L1233.7,1451.0 L1234.7,1583.5 L1235.7,1691.3 L1236.7,1601.6 L1237.7,1479.5 L1238.7,1385.9 L1239.7,1314.1 L1240.7,1256.6 L1241.7,1209.0 L1242.7,1168.5 L1243.7,1133.4 L1244.7,1102.6 L1245.7,1075.1 L1246.7,1050.3 L1247.7,1027.9 L1248.7,1007.5 L1249.7,988.7 L1250.7,971.5 L1251.7,955.5 L1252.7,940.8 L1253.7,927.0 L1254.7,914.3 L1255.7,902.4 L1256.7,891.3 L1257.7,880.9 L1258.7,871.2 L1259.7,862.2 L1260.7,853.7 L1261.7,845.8 L1262.7,838.4 L1263.7,831.5 L1264.7,825.1 L1265.7,819.2 L1266.7,813.7 L1267.7,808.6 L1268.7,803.9 L1269.7,799.6 L1270.7,795.6 L1271.7,792.1 L1272.7,788.9 L1273.7,786.0 L1274.7,783.5 L1275.7,781.3 L1276.7,779.5 L1277.7,777.9 L1278.7,776.7 L1279.7,775.8 L1280.7,775.3 L1281.7,775.0 L1282.7,775.1 L1283.7,775.5 L1284.7,776.2 L1285.7,777.3 L1286.7,778.7 L1287.7,780.4 L1288.7,782.5 L1289.7,785.0 L1290.7,787.8 L1291.7,790.9 L1292.7,794.4 L1293.7,798.3 L1294.7,802.6 L1295.7,807.2 L1296.7,812.2 L1297.7,817.7 L1298.7,823.6 L1299.7,829.9 L1300.7,836.6 L1301.7,843.8 L1302.7,851.5 L1303.7,859.7 L1304.7,868.4 L1305.7,877.7 L1306.7,887.5 L1307.7,898.0 L1308.7,909.1 L1309.7,920.9 L1310.7,933.3 L1311.7,946.6 L1312.7,960.6 L1313.7,975.4 L1314.7,991.1 L1315.7,1007.7 L1316.7,1025.2 L1317.7,1043.5 L1318.7,1062.7 L1319.7,1082.5 L1320.7,1102.6 L1321.7,1122.7 L1322.7,1142.1 L1323.7,1159.7 L1324.7,1174.4 L1325.7,1184.8 L1326.7,1189.7 L1327.7,1187.8 L1328.7,1177.8 L1329.7,1161.1 L1330.7,1140.0 L1331.7,1116.6 L1332.7,1092.4 L1333.7,1068.4 L1334.7,1045.2 L1335.7,1023.0 L1336.7,1001.9 L1337.7,982.1 L1338.7,963.5 L1339.7,946.0 L1340.7,929.6 L1341.7,914.2 L1342.7,899.7 L1343.7,886.1 L1344.7,873.3 L1345.7,861.3 L1346.7,850.0 L1347.7,839.3 L1348.7,829.3 L1349.7,819.9 L1350.7,811.0 L1351.7,802.6 L1352.7,794.8 L1353.7,787.4 L1354.7,780.5 L1355.7,774.1 L1356.7,768.0 L1357.7,762.4 L1358.7,757.1 L1359.7,752.3 L1360.7,747.8 L1361.7,743.7 L1362.7,739.9 L1363.7,736.5 L1364.7,733.4 L1365.7,730.6 L1366.7,728.2 L1367.7,726.1 L1368.7,724.3 L1369.7,722.8 L1370.7,721.7 L1371.7,720.8 L1372.7,720.3 L1373.7,720.0 L1374.7,720.1 L1375.7,720.4 L1376.7,721.0 L1377.7,722.0 L1378.7,723.2 L1379.7,724.7 L1380.7,726.5 L1381.7,728.5 L1382.7,730.9 L1383.7,733.6 L1384.7,736.6 L1385.7,739.9 L1386.7,743.6 L1387.7,747.5 L1388.7,751.8 L1389.7,756.4 L1390.7,761.4 L1391.7,766.7 L1392.7,772.4 L1393.7,778.5 L1394.7,784.9 L1395.7,791.8 L1396.7,799.1 L1397.7,806.8 L1398.7,815.0 L1399.7,823.7 L1400.7,832.9 L1401.7,842.6 L1402.7,852.8 L1403.7,863.6 L1404.7,875.1 L1405.7,887.1 L1406.7,899.9 L1407.7,913.3 L1408.7,927.5 L1409.7,942.4 L1410.7,958.1 L1411.7,974.6 L1412.7,991.9 L1413.7,1009.8 L1414.7,1028.3 L1415.7,1047.2 L1416.7,1066.1 L1417.7,1084.5 L1418.7,1101.7 L1419.7,1116.7 L1420.7,1128.4 L1421.7,1135.8 L1422.7,1138.0 L1423.7,1135.6 L1424.7,1129.5 L1425.7,1120.2 L1426.7,1108.3 L1427.7,1094.6 L1428.7,1079.6 L1429.7,1063.9 L1430.7,1047.9 L1431.7,1032.1 L1432.7,1016.4 L1433.7,1001.2 L1434.7,986.6 L1435.7,972.4 L1436.7,958.9 L1437.7,946.0 L1438.7,933.7 L1439.7,921.9 L1440.7,910.8 L1441.7,900.3 L1442.7,890.2 L1443.7,880.8 L1444.7,871.8 L1445.7,863.4 L1446.7,855.4 L1447.7,847.9 L1448.7,840.8 L1449.7,834.2 L1450.7,828.0 L1451.7,822.3 L1452.7,816.9 L1453.7,812.0 L1454.7,807.4 L1455.7,803.2 L1456.7,799.4 L1457.7,796.0 L1458.7,792.9 L1459.7,790.2 L1460.7,787.8 L1461.7,785.8 L1462.7,784.2 L1463.7,782.9 L1464.7,781.9 L1465.7,781.3 L1466.7,781.0 L1467.7,781.1 L1468.7,781.5 L1469.7,782.3 L1470.7,783.4 L1471.7,784.9 L1472.7,786.7 L1473.7,788.9 L1474.7,791.5 L1475.7,794.4 L1476.7,797.8 L1477.7,801.5 L1478.7,805.6 L1479.7,810.2 L1480.7,815.1 L1481.7,820.6 L1482.7,826.5 L1483.7,832.8 L1484.7,839.7 L1485.7,847.1 L1486.7,855.1 L1487.7,863.7 L1488.7,872.9 L1489.7,882.8 L1490.7,893.4 L1491.7,904.9 L1492.7,917.1 L1493.7,930.4 L1494.7,944.6 L1495.7,960.0 L1496.7,976.7 L1497.7,994.8 L1498.7,1014.6 L1499.7,1036.2 L1500.7,1060.1 L1501.7,1086.6 L1502.7,1116.4 L1503.7,1150.0 L1504.7,1188.7 L1505.7,1233.9 L1506.7,1288.2 L1507.7,1355.3 L1508.7,1442.0 L1509.7,1557.5 L1510.7,1679.7 L1511.7,1625.2 L1512.7,1480.6 L1513.7,1373.1 L1514.7,1293.6 L1515.7,1231.4 L1516.7,1180.6 L1517.7,1137.9 L1518.7,1101.1 L1519.7,1068.9 L1520.7,1040.3 L1521.7,1014.7 L1522.7,991.5 L1523.7,970.4 L1524.7,951.1 L1525.7,933.4 L1526.7,917.0 L1527.7,901.8 L1528.7,887.7 L1529.7,874.6 L1530.7,862.4 L1531.7,851.0 L1532.7,840.3 L1533.7,830.3 L1534.7,821.0 L1535.7,812.3 L1536.7,804.1 L1537.7,796.5 L1538.7,789.4 L1539.7,782.7 L1540.7,776.6 L1541.7,770.8 L1542.7,765.5 L1543.7,760.5 L1544.7,756.0 L1545.7,751.8 L1546.7,748.0 L1547.7,744.6 L1548.7,741.4 L1549.7,738.7 L1550.7,736.2 L1551.7,734.1 L1552.7,732.3 L1553.7,730.8 L1554.7,729.7 L1555.7,728.8 L1556.7,728.3 L1557.7,728.0 L1558.7,728.1 L1559.7,728.4 L1560.7,729.1 L1561.7,730.1 L1562.7,731.4 L1563.7,733.0 L1564.7,734.9 L1565.7,737.1 L1566.7,739.7 L1567.7,742.5 L1568.7,745.7 L1569.7,749.2 L1570.7,753.0 L1571.7,757.2 L1572.7,761.7 L1573.7,766.6 L1574.7,771.8 L1575.7,777.4 L1576.7,783.3 L1577.7,789.7 L1578.7,796.4 L1579.7,803.5 L1580.7,811.0 L1581.7,818.9 L1582.7,827.3 L1583.7,836.1 L1584.7,845.3 L1585.7,855.0 L1586.7,865.2 L1587.7,875.8 L1588.7,886.9 L1589.7,898.6 L1590.7,910.6 L1591.7,923.2 L1592.7,936.2 L1593.7,949.5 L1594.7,963.2 L1595.7,977.1 L1596.7,991.1 L1597.7,1004.9 L1598.7,1018.3 L1599.7,1030.9 L1600.7,1042.5 L1601.7,1052.4 L1602.7,1060.2 L1603.7,1065.4 L1604.7,1067.9 L1605.7,1067.3 L1606.7,1063.9 L1607.7,1057.9 L1608.7,1049.6 L1609.7,1039.4 L1610.7,1027.9 L1611.7,1015.4 L1612.7,1002.3 L1613.7,988.9 L1614.7,975.4 L1615.7,962.0 L1616.7,948.8 L1617.7,935.9 L1618.7,923.5 L1619.7,911.5 L1620.7,899.9 L1621.7,888.9 L1622.7,878.3 L1623.7,868.2 L1624.7,858.6 L1625.7,849.6 L1626.7,840.9 L1627.7,832.8 L1628.7,825.1 L1629.7,817.9 L1630.7,811.1 L1631.7,804.8 L1632.7,798.9 L1633.7,793.4 L1634.7,788.4 L1635.7,783.7 L1636.7,779.5 L1637.7,775.7 L1638.7,772.3 L1639.7,769.3 L1640.7,766.6 L1641.7,764.4 L1642.7,762.5 L1643.7,761.1 L1644.7,760.0 L1645.7,759.3 L1646.7,759.0 L1647.7,759.1 L1648.7,759.4 L1649.7,760.0 L1650.7,760.9 L1651.7,762.1 L1652.7,763.6 L1653.7,765.4 L1654.7,767.4 L1655.7,769.8 L1656.7,772.4 L1657.7,775.4 L1658.7,778.7 L1659.7,782.3 L1660.7,786.2 L1661.7,790.5 L1662.7,795.1 L1663.7,800.1 L1664.7,805.4 L1665.7,811.1 L1666.7,817.2 L1667.7,823.8 L1668.7,830.7 L1669.7,838.1 L1670.7,846.0 L1671.7,854.4 L1672.7,863.4 L1673.7,872.8 L1674.7,882.9 L1675.7,893.7 L1676.7,905.1 L1677.7,917.2 L1678.7,930.2 L1679.7,944.0 L1680.7,958.8 L1681.7,974.5 L1682.7,991.5 L1683.7,1009.7 L1684.7,1029.2 L1685.7,1050.3 L1686.7,1073.1 L1687.7,1097.6 L1688.7,1124.2 L1689.7,1152.8 L1690.7,1183.3 L1691.7,1215.2 L1692.7,1247.3 L1693.7,1277.1 L1694.7,1300.5 L1695.7,1312.3 L1696.7,1307.9 L1697.7,1285.2 L1698.7,1251.4 L1699.7,1213.8 L1700.7,1176.4 L1701.7,1141.1 L1702.7,1108.5 L1703.7,1078.7 L1704.7,1051.4 L1705.7,1026.3 L1706.7,1003.4 L1707.7,982.2 L1708.7,962.7 L1709.7,944.6 L1710.7,927.8 L1711.7,912.2 L1712.7,897.7 L1713.7,884.0 L1714.7,871.3 L1715.7,859.4 L1716.7,848.2 L1717.7,837.7 L1718.7,827.9 L1719.7,818.6 L1720.7,810.0 L1721.7,801.8 L1722.7,794.2 L1723.7,787.0 L1724.7,780.3 L1725.7,774.1 L1726.7,768.2 L1727.7,762.8 L1728.7,757.7 L1729.7,753.1 L1730.7,748.7 L1731.7,744.8 L1732.7,741.1 L1733.7,737.8 L1734.7,734.9 L1735.7,732.2 L1736.7,729.9 L1737.7,727.9 L1738.7,726.1 L1739.7,724.7 L1740.7,723.6 L1741.7,722.8 L1742.7,722.2 L1743.7,722.0 L1744.7,722.1 L1745.7,722.5 L1746.7,723.2 L1747.7,724.3 L1748.7,725.7 L1749.7,727.5 L1750.7,729.5 L1751.7,732.0 L1752.7,734.8 L1753.7,738.0 L1754.7,741.5 L1755.7,745.4 L1756.7,749.7 L1757.7,754.4 L1758.7,759.5 L1759.7,765.0 L1760.7,771.0 L1761.7,777.4 L1762.7,784.2 L1763.7,791.6 L1764.7,799.5 L1765.7,807.9 L1766.7,817.0 L1767.7,826.6 L1768.7,836.8 L1769.7,847.8 L1770.7,859.5 L1771.7,871.9 L1772.7,885.2 L1773.7,899.5 L1774.7,914.7 L1775.7,931.0 L1776.7,948.5 L1777.7,967.2 L1778.7,987.3 L1779.7,1008.9 L1780.7,1032.1 L1781.7,1056.9 L1782.7,1083.3 L1783.7,1110.9 L1784.7,1139.1 L1785.7,1166.7 L1786.7,1191.5 L1787.7,1210.2 L1788.7,1219.5 L1789.7,1217.9 L1790.7,1208.1 L1791.7,1191.9 L1792.7,1171.3 L1793.7,1148.3 L1794.7,1124.6 L1795.7,1100.9 L1796.7,1078.0 L1797.7,1056.1 L1798.7,1035.3 L1799.7,1015.7 L1800.7,997.3 L1801.7,980.0 L1802.7,963.8 L1803.7,948.5 L1804.7,934.2 L1805.7,920.8 L1806.7,908.2 L1807.7,896.3 L1808.7,885.2 L1809.7,874.7 L1810.7,864.9 L1811.7,855.7 L1812.7,847.0 L1813.7,838.9 L1814.7,831.3 L1815.7,824.2 L1816.7,817.5 L1817.7,811.4 L1818.7,805.6 L1819.7,800.3 L1820.7,795.4 L1821.7,790.9 L1822.7,786.8 L1823.7,783.0 L1824.7,779.6 L1825.7,776.6 L1826.7,774.0 L1827.7,771.7 L1828.7,769.7 L1829.7,768.1 L1830.7,766.8 L1831.7,765.9 L1832.7,765.3 L1833.7,765.0 L1834.7,765.1 L1835.7,765.5 L1836.7,766.3 L1837.7,767.4 L1838.7,768.9 L1839.7,770.7 L1840.7,772.9 L1841.7,775.4 L1842.7,778.3 L1843.7,781.6 L1844.7,785.2 L1845.7,789.2 L1846.7,793.6 L1847.7,798.3 L1848.7,803.5 L1849.7,809.0 L1850.7,815.0 L1851.7,821.3 L1852.7,828.1 L1853.7,835.3 L1854.7,843.0 L1855.7,851.1 L1856.7,859.6 L1857.7,868.6 L1858.7,878.1 L1859.7,888.1 L1860.7,898.5 L1861.7,909.5 L1862.7,920.9 L1863.7,932.8 L1864.7,945.2 L1865.7,958.0 L1866.7,971.2 L1867.7,984.8 L1868.7,998.5 L1869.7,1012.2 L1870.7,1025.9 L1871.7,1039.1 L1872.7,1051.6 L1873.7,1062.9 L1874.7,1072.6 L1875.7,1080.3 L1876.7,1085.5 L1877.7,1087.9 L1878.7,1087.2 L1879.7,1083.1 L1880.7,1076.0 L1881.7,1066.3 L1882.7,1054.6 L1883.7,1041.4 L1884.7,1027.3 L1885.7,1012.6 L1886.7,997.8 L1887.7,982.9 L1888.7,968.4 L1889.7,954.1 L1890.7,940.3 L1891.7,927.0 L1892.7,914.2 L1893.7,902.0 L1894.7,890.2 L1895.7,879.0 L1896.7,868.3 L1897.7,858.1 L1898.7,848.5 L1899.7,839.2 L1900.7,830.5 L1901.7,822.2 L1902.7,814.4 L1903.7,806.9 L1904.7,799.9 L1905.7,793.3 L1906.7,787.1 L1907.7,781.3 L1908.7,775.8 L1909.7,770.7 L1910.7,766.0 L1911.7,761.6 L1912.7,757.5 L1913.7,753.8 L1914.7,750.4 L1915.7,747.3 L1916.7,744.6 L1917.7,742.2 L1918.7,740.1 L1919.7,738.3 L1920.7,736.8 L1921.7,735.7 L1922.7,734.8 L1923.7,734.3 L1924.7,734.0 L1925.7,734.1 L1926.7,734.5 L1927.7,735.2 L1928.7,736.3 L1929.7,737.7 L1930.7,739.5 L1931.7,741.6 L1932.7,744.0 L1933.7,746.8 L1934.7,750.0 L1935.7,753.6 L1936.7,757.5 L1937.7,761.8 L1938.7,766.6 L1939.7,771.7 L1940.7,777.3 L1941.7,783.4 L1942.7,790.0 L1943.7,797.0 L1944.7,804.6 L1945.7,812.7 L1946.7,821.4 L1947.7,830.8 L1948.7,840.8 L1949.7,851.5 L1950.7,863.1 L1951.7,875.5 L1952.7,888.8 L1953.7,903.1 L1954.7,918.6 L1955.7,935.4 L1956.7,953.6 L1957.7,973.5 L1958.7,995.3 L1959.7,1019.2 L1960.7,1045.9 L1961.7,1075.8 L1962.7,1109.6 L1963.7,1148.5 L1964.7,1194.2 L1965.7,1249.0 L1966.7,1317.4 L1967.7,1406.9 L1968.7,1530.6 L1969.7,1675.9 L1970.7,1624.0 L1971.7,1478.3 L1972.7,1370.5 L1973.7,1290.9 L1974.7,1228.7 L1975.7,1177.9 L1976.7,1135.2 L1977.7,1098.5 L1978.7,1066.4 L1979.7,1037.9 L1980.7,1012.4 L1981.7,989.4 L1982.7,968.5 L1983.7,949.3 L1984.7,931.7 L1985.7,915.5 L1986.7,900.6 L1987.7,886.7 L1988.7,873.8 L1989.7,861.8 L1990.7,850.6 L1991.7,840.2 L1992.7,830.6 L1993.7,821.5 L1994.7,813.1 L1995.7,805.3 L1996.7,798.0 L1997.7,791.2 L1998.7,785.0 L1999.7,779.2 L2000.7,773.9 L2001.7,769.0 L2002.7,764.5 L2003.7,760.4 L2004.7,756.7 L2005.7,753.4 L2006.7,750.5 L2007.7,748.0 L2008.7,745.8 L2009.7,743.9 L2010.7,742.5 L2011.7,741.3 L2012.7,740.6 L2013.7,740.1 L2014.7,740.0 L2015.7,740.2 L2016.7,740.8 L2017.7,741.7 L2018.7,742.9 L2019.7,744.4 L2020.7,746.3 L2021.7,748.5 L2022.7,751.1 L2023.7,754.0 L2024.7,757.3 L2025.7,761.0 L2026.7,765.0 L2027.7,769.4 L2028.7,774.3 L2029.7,779.5 L2030.7,785.2 L2031.7,791.3 L2032.7,797.9 L2033.7,805.0 L2034.7,812.6 L2035.7,820.8 L2036.7,829.5 L2037.7,838.9 L2038.7,848.9 L2039.7,859.6 L2040.7,871.1 L2041.7,883.4 L2042.7,896.6 L2043.7,910.9 L2044.7,926.2 L2045.7,942.7 L2046.7,960.7 L2047.7,980.2" stroke="#0000ff" stroke-width="6.8" stroke-dasharray="21 23"/>
</g>
<rect x="239.7" y="50.2" width="1808.6" height="3.7" fill="#50555a"/>
<rect x="237.9" y="47" width="4.2" height="1271" fill="#1f7fc0"/>
<rect x="2046.5" y="47" width="3.6" height="1271" fill="#e07a4a"/>
<rect x="238" y="47" width="22" height="3.3" fill="#93b3cb"/>
<rect x="238" y="50.2" width="22" height="3.7" fill="#1a6aa5"/>
<rect x="238" y="1310.9" width="22" height="3.5" fill="#2f73a8"/>
<rect x="238" y="1314.4" width="22" height="3.5" fill="#5d91b8"/>
<rect x="2030" y="47" width="20" height="3.3" fill="#d9b8a8"/>
<rect x="2030" y="50.2" width="20" height="3.7" fill="#c0603a"/>
<rect x="2046.5" y="50.2" width="3.6" height="18" fill="#b9552c"/>
<rect x="2046.5" y="1295" width="3.6" height="19" fill="#b9552c"/>
<rect x="2050.1" y="53.9" width="3.5" height="14" fill="#cfab98"/>
<rect x="2050.1" y="1295" width="3.5" height="19" fill="#cfa898"/>
<rect x="237.9" y="50.2" width="4.2" height="20" fill="#0d64a4"/>
<rect x="237.9" y="1293" width="4.2" height="21" fill="#0d64a4"/>
<text x="219" y="75.5" font-family="'Liberation Serif',serif" font-size="70" fill="#0072bd" text-anchor="end" letter-spacing="4">0</text>
<text x="219" y="233.1" font-family="'Liberation Serif',serif" font-size="70" fill="#0072bd" text-anchor="end" letter-spacing="4">-5</text>
<text x="219" y="390.8" font-family="'Liberation Serif',serif" font-size="70" fill="#0072bd" text-anchor="end" letter-spacing="4">-10</text>
<text x="219" y="548.4" font-family="'Liberation Serif',serif" font-size="70" fill="#0072bd" text-anchor="end" letter-spacing="4">-15</text>
<text x="219" y="706.0" font-family="'Liberation Serif',serif" font-size="70" fill="#0072bd" text-anchor="end" letter-spacing="4">-20</text>
<text x="219" y="863.6" font-family="'Liberation Serif',serif" font-size="70" fill="#0072bd" text-anchor="end" letter-spacing="4">-25</text>
<text x="219" y="1021.2" font-family="'Liberation Serif',serif" font-size="70" fill="#0072bd" text-anchor="end" letter-spacing="4">-30</text>
<text x="219" y="1178.9" font-family="'Liberation Serif',serif" font-size="70" fill="#0072bd" text-anchor="end" letter-spacing="4">-35</text>
<text x="219" y="1336.5" font-family="'Liberation Serif',serif" font-size="70" fill="#0072bd" text-anchor="end" letter-spacing="4">-40</text>
<text x="242.7" y="1400.5" font-family="'Liberation Serif',serif" font-size="70" fill="#262626" text-anchor="middle" letter-spacing="6">4</text>
<text x="544.1" y="1400.5" font-family="'Liberation Serif',serif" font-size="70" fill="#262626" text-anchor="middle" letter-spacing="6">5</text>
<text x="845.6" y="1400.5" font-family="'Liberation Serif',serif" font-size="70" fill="#262626" text-anchor="middle" letter-spacing="6">6</text>
<text x="1147.0" y="1400.5" font-family="'Liberation Serif',serif" font-size="70" fill="#262626" text-anchor="middle" letter-spacing="6">7</text>
<text x="1448.4" y="1400.5" font-family="'Liberation Serif',serif" font-size="70" fill="#262626" text-anchor="middle" letter-spacing="6">8</text>
<text x="1749.9" y="1400.5" font-family="'Liberation Serif',serif" font-size="70" fill="#262626" text-anchor="middle" letter-spacing="6">9</text>
<text x="2051.3" y="1400.5" font-family="'Liberation Serif',serif" font-size="70" fill="#262626" text-anchor="middle" letter-spacing="6">10</text>
<text x="2069" y="1336.5" font-family="'Liberation Serif',serif" font-size="70" fill="#d95319" letter-spacing="5">1</text>
<text x="2069" y="1084.3" font-family="'Liberation Serif',serif" font-size="70" fill="#d95319" letter-spacing="5">1.2</text>
<text x="2069" y="832.1" font-family="'Liberation Serif',serif" font-size="70" fill="#d95319" letter-spacing="5">1.4</text>
<text x="2069" y="579.9" font-family="'Liberation Serif',serif" font-size="70" fill="#d95319" letter-spacing="5">1.6</text>
<text x="2069" y="327.7" font-family="'Liberation Serif',serif" font-size="70" fill="#d95319" letter-spacing="5">1.8</text>
<text x="2069" y="75.5" font-family="'Liberation Serif',serif" font-size="70" fill="#d95319" letter-spacing="5">2</text>
<text x="1144.7" y="1495" font-family="'Liberation Serif',serif" font-size="84" fill="#262626" text-anchor="middle">frequency(GHz)</text>
<text transform="translate(89,686.6) rotate(-90)" font-family="'Liberation Serif',serif" font-size="79.5" fill="#0072bd" text-anchor="middle">S−para(dB)</text>
<text transform="translate(2249,682.5) rotate(-90)" font-family="'Liberation Serif',serif" font-size="82" fill="#d95319" text-anchor="middle">Group Delay(ns)</text>
<rect x="1531" y="134" width="454" height="251" fill="#fff"/>
<rect x="1531" y="134" width="454.0" height="4.0" fill="#c8c8c8"/>
<rect x="1531" y="138" width="454.0" height="3.0" fill="#a0a0a0"/>
<rect x="1531" y="141" width="450.0" height="3.6" fill="#848484"/>
<rect x="1531" y="374" width="446.0" height="3.0" fill="#dcdcdc"/>
<rect x="1531" y="377" width="450.0" height="4.0" fill="#888888"/>
<rect x="1531" y="381" width="454.0" height="4.0" fill="#b2b2b2"/>
<rect x="1531" y="134" width="3.0" height="251.0" fill="#858585"/>
<rect x="1534" y="144.6" width="4.0" height="236.4" fill="#a8a8a8"/>
<rect x="1974" y="144.6" width="3.0" height="232.4" fill="#ececec"/>
<rect x="1977" y="141" width="4.0" height="240.0" fill="#505050"/>
<rect x="1981" y="138" width="4.0" height="247.0" fill="#d5d5d5"/>
<line x1="1542" y1="183" x2="1614" y2="183" stroke="#0000ff" stroke-width="6.8"/>
<line x1="1542" y1="260.5" x2="1614" y2="260.5" stroke="#0000ff" stroke-width="6.8" stroke-dasharray="25 18.5"/>
<line x1="1542" y1="337" x2="1614" y2="337" stroke="#d95319" stroke-width="6.8"/>
<text x="1620" y="201.5" font-family="'Liberation Serif',serif" font-size="67" fill="#000">S21</text>
<text x="1620" y="278.5" font-family="'Liberation Serif',serif" font-size="67" fill="#000">S11</text>
<text x="1620" y="358" font-family="'Liberation Serif',serif" font-size="67" fill="#000">Group Delay</text>
</svg>
</body></html>
